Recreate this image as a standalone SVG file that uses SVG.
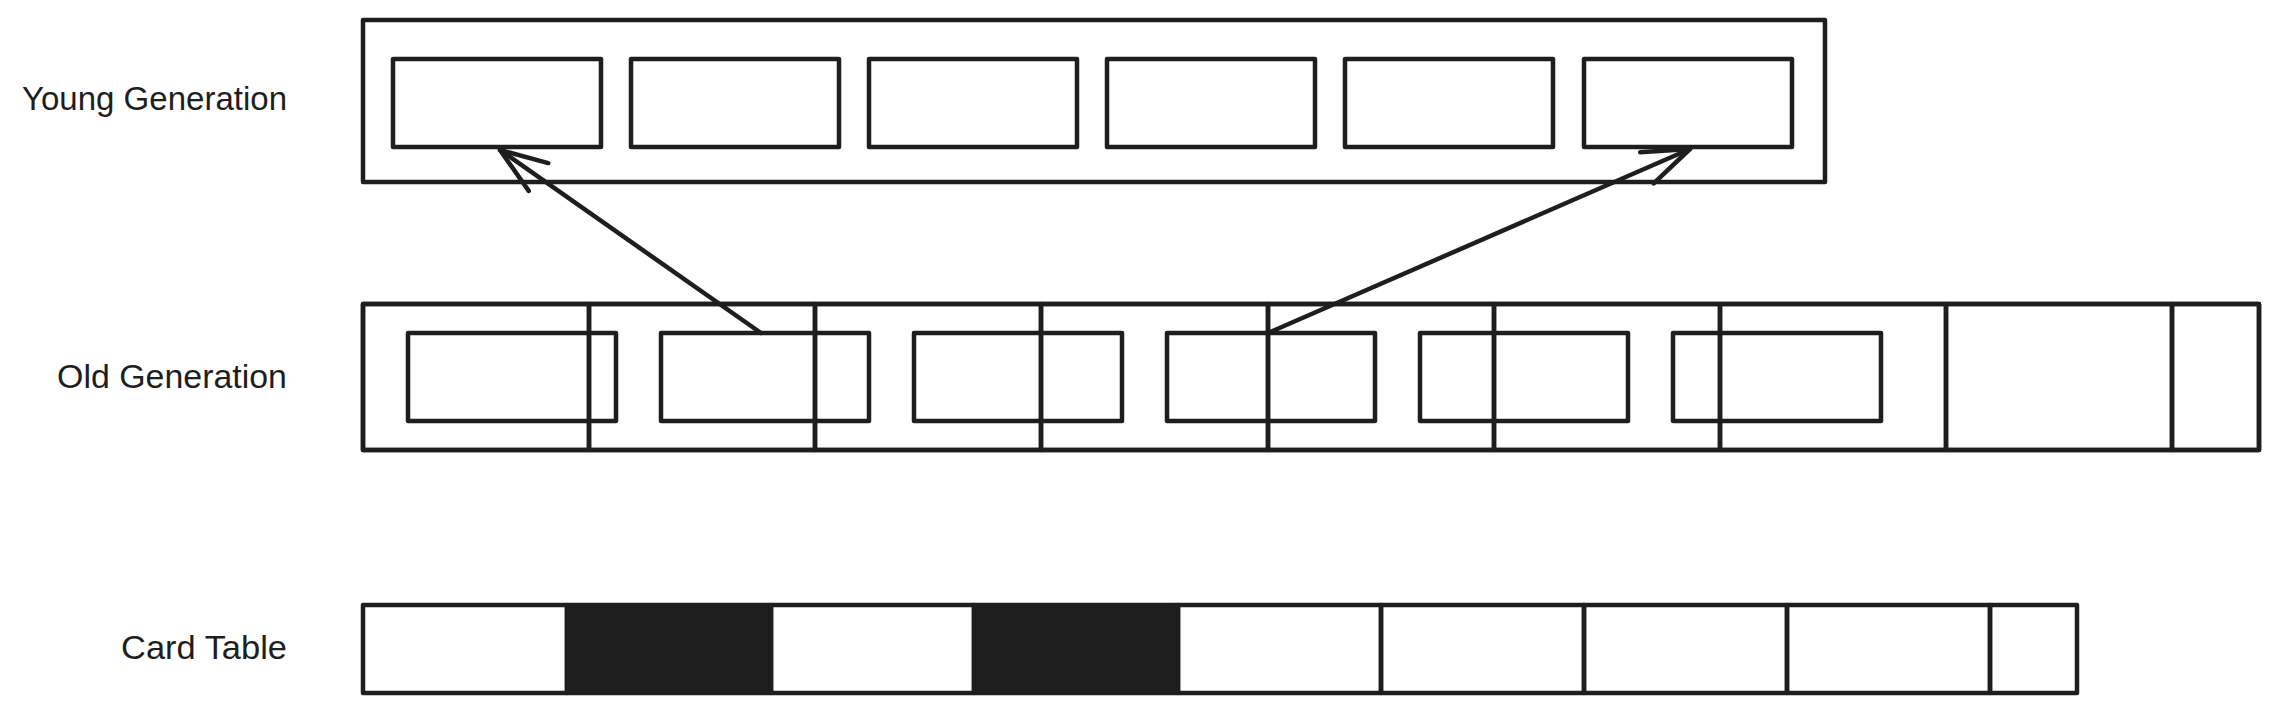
<svg xmlns="http://www.w3.org/2000/svg" width="2279" height="712" viewBox="0 0 2279 712">
  <style>
    .box { fill: none; stroke: #1e1e1e; stroke-width: 4.5; stroke-linejoin: round; stroke-linecap: round; }
    .dark { fill: #1e1e1e; stroke: #1e1e1e; stroke-width: 4.5; stroke-linejoin: round; }
    .line { fill: none; stroke: #1e1e1e; stroke-width: 4.5; stroke-linecap: round; }
    .label { font-family: "Liberation Sans", Arial, sans-serif; font-size: 33px; fill: #1e1e1e; text-anchor: end; }
  </style>
  <defs>
    <marker id="arrow" markerUnits="userSpaceOnUse" viewBox="-55 -25 60 50" refX="0" refY="0" markerWidth="60" markerHeight="50" orient="auto" overflow="visible">
      <path d="M -47 -17 L 0 0 L -47 17" fill="none" stroke="#1e1e1e" stroke-width="4.5" stroke-linecap="round" stroke-linejoin="round"/>
    </marker>
  </defs>
  <rect width="2279" height="712" fill="#ffffff"/>

  <!-- Labels -->
  <g id="label-young"><text class="label" x="287" y="110" textLength="265" lengthAdjust="spacingAndGlyphs">Young Generation</text></g>
  <g id="label-old"><text class="label" x="287" y="388" textLength="230" lengthAdjust="spacingAndGlyphs">Old Generation</text></g>
  <g id="label-card"><text class="label" x="287" y="659" textLength="166" lengthAdjust="spacingAndGlyphs">Card Table</text></g>

  <!-- Young Generation -->
  <g id="young-gen"><rect class="box" x="363" y="20" width="1462" height="162"/></g>
  <g id="young-1"><rect class="box" x="393" y="59" width="208" height="88"/></g>
  <g id="young-2"><rect class="box" x="631" y="59" width="208" height="88"/></g>
  <g id="young-3"><rect class="box" x="869" y="59" width="208" height="88"/></g>
  <g id="young-4"><rect class="box" x="1107" y="59" width="208" height="88"/></g>
  <g id="young-5"><rect class="box" x="1345" y="59" width="208" height="88"/></g>
  <g id="young-6"><rect class="box" x="1584" y="59" width="208" height="88"/></g>

  <!-- Old Generation cells -->
  <g id="old-gen">
    <rect class="box" x="363" y="304" width="1896" height="146"/>
  </g>
  <g id="old-cell-1"><rect class="box" x="363" y="304" width="226" height="146"/></g>
  <g id="old-cell-2"><rect class="box" x="589" y="304" width="226" height="146"/></g>
  <g id="old-cell-3"><rect class="box" x="815" y="304" width="226" height="146"/></g>
  <g id="old-cell-4"><rect class="box" x="1041" y="304" width="227" height="146"/></g>
  <g id="old-cell-5"><rect class="box" x="1268" y="304" width="226" height="146"/></g>
  <g id="old-cell-6"><rect class="box" x="1494" y="304" width="226" height="146"/></g>
  <g id="old-cell-7"><rect class="box" x="1720" y="304" width="226" height="146"/></g>
  <g id="old-cell-8"><rect class="box" x="1946" y="304" width="226" height="146"/></g>
  <g id="old-cell-9"><rect class="box" x="2172" y="304" width="87" height="146"/></g>

  <!-- Old Generation objects -->
  <g id="old-obj-1"><rect class="box" x="408" y="333" width="208" height="88"/></g>
  <g id="old-obj-2"><rect class="box" x="661" y="333" width="208" height="88"/></g>
  <g id="old-obj-3"><rect class="box" x="914" y="333" width="208" height="88"/></g>
  <g id="old-obj-4"><rect class="box" x="1167" y="333" width="208" height="88"/></g>
  <g id="old-obj-5"><rect class="box" x="1420" y="333" width="208" height="88"/></g>
  <g id="old-obj-6"><rect class="box" x="1673" y="333" width="208" height="88"/></g>

  <!-- Card Table -->
  <g id="card-1"><rect class="box" x="363" y="605" width="204" height="88"/></g>
  <g id="card-2"><rect class="dark" x="567" y="605" width="204" height="88"/></g>
  <g id="card-3"><rect class="box" x="771" y="605" width="203" height="88"/></g>
  <g id="card-4"><rect class="dark" x="974" y="605" width="204" height="88"/></g>
  <g id="card-5"><rect class="box" x="1178" y="605" width="203" height="88"/></g>
  <g id="card-6"><rect class="box" x="1381" y="605" width="203" height="88"/></g>
  <g id="card-7"><rect class="box" x="1584" y="605" width="203" height="88"/></g>
  <g id="card-8"><rect class="box" x="1787" y="605" width="203" height="88"/></g>
  <g id="card-9"><rect class="box" x="1990" y="605" width="87" height="88"/></g>

  <!-- Connectors -->
  <g id="connectors">
    <line class="line" x1="761" y1="333" x2="500" y2="150" marker-end="url(#arrow)"/>
    <line class="line" x1="1268" y1="333" x2="1690" y2="149" marker-end="url(#arrow)"/>
  </g>
</svg>
